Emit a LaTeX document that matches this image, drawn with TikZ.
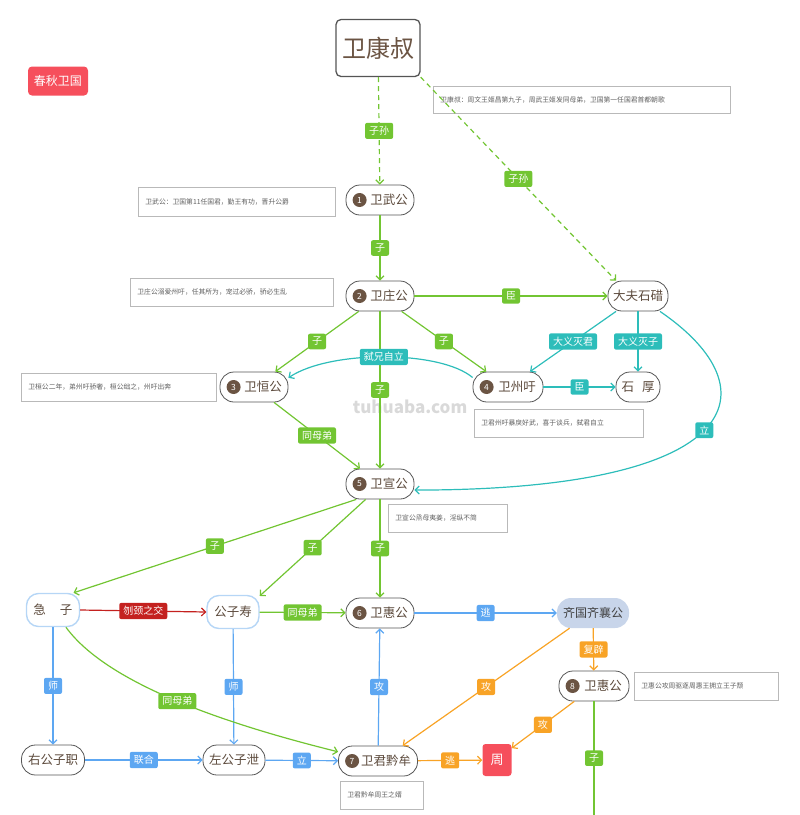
\documentclass[tikz,border=0pt]{standalone}
\usepackage{fontspec}
\setmainfont{Noto Sans CJK SC}
\usetikzlibrary{arrows.meta}
\definecolor{cgreen}{HTML}{72C532}
\definecolor{cteal}{HTML}{2DBDBA}
\definecolor{cblue}{HTML}{5DA7F2}
\definecolor{corange}{HTML}{F8A326}
\definecolor{cdred}{HTML}{C4211F}
\definecolor{cred}{HTML}{F64F5C}
\definecolor{cbrown}{HTML}{6B5443}
\definecolor{ctext}{HTML}{5C4A3C}
\definecolor{cborder}{HTML}{555555}
\definecolor{clblue}{HTML}{B6D6F6}
\definecolor{cqi}{HTML}{C8D5EA}
\tikzset{
  person/.style={draw=cborder, line width=0.8pt, fill=white, rounded corners=14pt,
    minimum height=30pt, inner xsep=5pt, text=ctext, font=\fontsize{12.5}{14}\selectfont},
  bperson/.style={person, draw=clblue, line width=1.4pt, rounded corners=12pt, minimum height=33pt},
  numc/.style={circle, fill=cbrown, text=white, inner sep=0pt, minimum size=14pt,
    font=\fontsize{8.5}{9}\selectfont},
  lab/.style={rounded corners=2pt, text=white, font=\fontsize{10}{12}\selectfont,
    inner xsep=4pt, inner ysep=3.5pt},
  glab/.style={lab, fill=cgreen},
  tlab/.style={lab, fill=cteal},
  blab/.style={lab, fill=cblue},
  olab/.style={lab, fill=corange},
  rlab/.style={lab, fill=cdred},
  tip/.style={-{Straight Barb[length=4pt,width=8pt]}},
  gedge/.style={draw=cgreen, line width=1.2pt, tip},
  tedge/.style={draw=cteal, line width=1.2pt, tip},
  bedge/.style={draw=cblue, line width=1.2pt, tip},
  oedge/.style={draw=corange, line width=1.2pt, tip},
  redge/.style={draw=cdred, line width=1.2pt, tip},
  note/.style={draw=gray!55, line width=0.8pt, fill=white, anchor=north west,
    inner xsep=7pt, inner ysep=0pt, align=left, text=gray!75!black,
    font=\fontsize{6.8}{8}\selectfont},
}
\begin{document}
\begin{tikzpicture}[x=1pt,y=-1pt]
\useasboundingbox (0,0) rectangle (800,815);

% watermark
\node[text=gray!30, font=\fontsize{17}{20}\selectfont\bfseries] (wm) at (410,407) {tuhuaba.com};

% nodes
\node[draw=cborder, line width=1.3pt, fill=white, rounded corners=5pt, minimum width=84pt,
  minimum height=57pt, inner xsep=6pt, text=cbrown, font=\fontsize{24}{28}\selectfont] (kang) at (378,48) {卫康叔};
\node[fill=cred, rounded corners=4pt, text=white, minimum width=60pt, minimum height=29pt,
  inner xsep=6pt, font=\fontsize{12}{14}\selectfont] (cq) at (58,81) {春秋卫国};

\node[person, minimum width=68pt] (wu) at (380,200) {\hspace*{18pt}卫武公};
\node[numc] (n1) at ([xshift=14pt]wu.west) {1};
\node[person, minimum width=68pt] (zhuang) at (380,296) {\hspace*{18pt}卫庄公};
\node[numc] (n2) at ([xshift=14pt]zhuang.west) {2};
\node[person, minimum width=60pt, inner xsep=4pt] (shi) at (638,296) {大夫石碏};
\node[person, minimum width=68pt] (huan) at (254,387) {\hspace*{18pt}卫恒公};
\node[numc] (n3) at ([xshift=14pt]huan.west) {3};
\node[person, minimum width=70pt] (zhouyu) at (508,387) {\hspace*{18pt}卫州吁};
\node[numc] (n4) at ([xshift=14pt]zhouyu.west) {4};
\node[person, minimum width=44pt] (shihou) at (638,387) {石\hspace{8pt}厚};
\node[person, minimum width=68pt] (xuan) at (380,484) {\hspace*{18pt}卫宣公};
\node[numc] (n5) at ([xshift=14pt]xuan.west) {5};

\node[bperson, minimum width=53pt] (jizi) at (53,610) {急\hspace{14pt}子};
\node[bperson, minimum width=52pt] (shou) at (233,612) {公子寿};
\node[person, minimum width=68pt] (hui) at (380,613) {\hspace*{18pt}卫惠公};
\node[numc] (n6) at ([xshift=14pt]hui.west) {6};
\node[fill=cqi, rounded corners=14pt, minimum width=72pt, minimum height=30pt, inner xsep=5pt,
  text=black!75, font=\fontsize{12}{14}\selectfont] (qi) at (593,613) {齐国齐襄公};
\node[person, minimum width=70pt] (huib) at (594,686) {\hspace*{18pt}卫惠公};
\node[numc] (n8) at ([xshift=14pt]huib.west) {8};
\node[person, minimum width=63pt] (you) at (53,760) {右公子职};
\node[person, minimum width=62pt] (zuo) at (234,760) {左公子泄};
\node[person, minimum width=79pt, inner xsep=4pt] (qian) at (378,761) {\hspace*{16pt}卫君黔牟};
\node[numc] (n7) at ([xshift=14pt]qian.west) {7};
\node[fill=cred, rounded corners=3pt, text=white, minimum width=29pt, minimum height=32pt,
  inner sep=2pt, font=\fontsize{13}{15}\selectfont] (zhou) at (497,760) {周};
\coordinate (bottom) at (594,815);

% notes
\node[note, minimum width=297pt, minimum height=27pt, text width=283pt] (t1) at (433,86) {卫康叔：周文王姬昌第九子，周武王姬发同母弟，卫国第一任国君首都朝歌};
\node[note, minimum width=197pt, minimum height=29pt, text width=183pt] (t2) at (138,187) {卫武公：卫国第11任国君，勤王有功，晋升公爵};
\node[note, minimum width=203pt, minimum height=28pt, text width=189pt] (t3) at (130,278) {卫庄公溺爱州吁，任其所为，宠过必骄，骄必生乱};
\node[note, minimum width=195pt, minimum height=28pt, text width=181pt] (t4) at (21,373) {卫桓公二年，弟州吁骄奢，桓公绌之，州吁出奔};
\node[note, minimum width=169pt, minimum height=28pt, text width=155pt] (t5) at (474,409) {卫君州吁暴戾好武，喜于谈兵，弑君自立};
\node[note, minimum width=119pt, minimum height=28pt, text width=105pt] (t6) at (388,504) {卫宣公烝母夷姜，淫纵不简};
\node[note, minimum width=144pt, minimum height=28pt, text width=130pt] (t7) at (634,672) {卫惠公攻周驱逐周惠王拥立王子颓};
\node[note, minimum width=83pt, minimum height=28pt, text width=69pt] (t8) at (340,781) {卫君黔牟周王之婿};

% edges
\draw[gedge, dashed, dash pattern=on 5pt off 4pt] (kang) -- node[glab, solid]{子孙} (wu);
\draw[gedge, dashed, dash pattern=on 5pt off 4pt] (kang.south east) -- node[glab, solid]{子孙} (shi.145);
\draw[gedge] (wu) -- node[glab]{子} (zhuang);
\draw[gedge] (zhuang) -- node[glab]{臣} (shi);
\draw[gedge] (zhuang) -- node[glab]{子} (huan);
\draw[gedge] (zhuang) -- node[glab]{子} (zhouyu);
\draw[gedge] (zhuang) -- node[glab]{子} (xuan);
\draw[tedge] (zhouyu.165) .. controls (440,350) and (330,350) .. node[tlab, pos=0.5]{弑兄自立} (huan.15);
\draw[tedge] (shi) -- node[tlab]{大义灭君} (zhouyu);
\draw[tedge] (shi) -- node[tlab]{大义灭子} (shihou);
\draw[tedge] (zhouyu) -- node[tlab]{臣} (shihou);
\draw[tedge] (shi.-35) .. controls (775,390) and (745,490) .. node[tlab, pos=0.5]{立} (xuan.-10);
\draw[gedge] (huan) -- node[glab]{同母弟} (xuan);
\draw[gedge] (xuan.213) -- node[glab]{子} (jizi.40);
\draw[gedge] (xuan.227) -- node[glab]{子} (shou.31);
\draw[gedge] (xuan) -- node[glab]{子} (hui);
\draw[redge] (jizi.east) -- node[rlab]{刎颈之交} (shou.west);
\draw[gedge] (shou) -- node[glab]{同母弟} (hui);
\draw[bedge] (hui) -- node[blab]{逃} (qi);
\draw[oedge] (qi) -- node[olab]{复辟} (huib);
\draw[oedge] (qi.213) -- node[olab]{攻} (qian.32);
\draw[oedge] (huib.218) -- node[olab]{攻} (zhou.39);
\draw[draw=cgreen, line width=1.2pt] (huib) -- node[glab]{子} (bottom);
\draw[oedge] (qian) -- node[olab]{逃} (zhou);
\draw[bedge] (qian) -- node[blab]{攻} (hui);
\draw[bedge] (jizi) -- node[blab]{师} (you);
\draw[bedge] (shou) -- node[blab]{师} (zuo);
\draw[gedge] (jizi.-53) .. controls (108,685) and (230,725) .. node[glab, pos=0.5]{同母弟} (qian.167);
\draw[bedge] (you) -- node[blab]{联合} (zuo);
\draw[bedge] (zuo) -- node[blab]{立} (qian);
\end{tikzpicture}
\end{document}
